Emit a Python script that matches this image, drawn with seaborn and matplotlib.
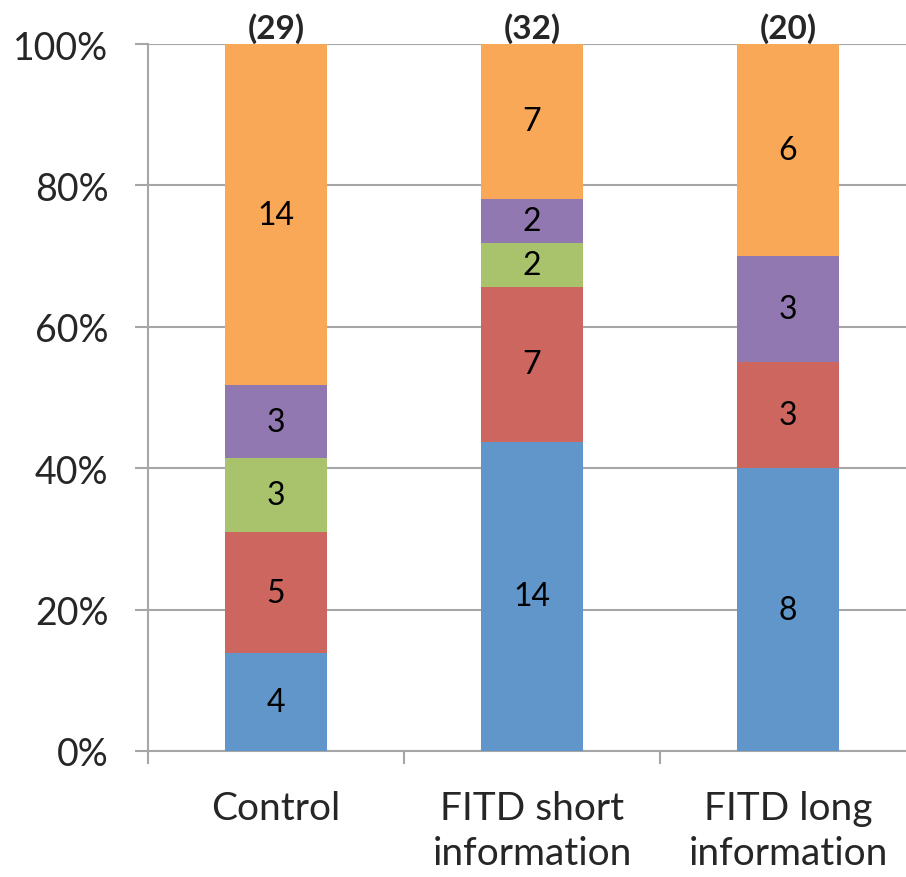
import matplotlib.pyplot as plt
import numpy as np
import pandas as pd
import seaborn as sns

sns.set_style("white")
plt.rcParams["font.family"] = ["Lato", "DejaVu Sans"]

# Data (counts per segment, bottom to top)
groups = ["Control", "FITD short\ninformation", "FITD long\ninformation"]
series = ["blue", "red", "green", "purple", "orange"]
blue = [4, 14, 8]
red = [5, 7, 3]
green = [3, 2, 0]
purple = [3, 2, 3]
orange = [14, 7, 6]
totals = [29, 32, 20]

colors = {
    "blue": "#6096C9",
    "red": "#CC665E",
    "green": "#A9C36C",
    "purple": "#9178B0",
    "orange": "#F9A857",
}

counts = pd.DataFrame(
    {"blue": blue, "red": red, "green": green, "purple": purple, "orange": orange},
    index=groups,
)
pct = counts.div(counts.sum(axis=1), axis=0) * 100
cum = pct.cumsum(axis=1)

fig = plt.figure(figsize=(9.06, 8.78), dpi=100)
ax = fig.add_axes([148 / 906, 1 - 752 / 878, 768 / 906, 707 / 878])

# draw cumulative bars from the top segment down so each covers the one below
for s in reversed(series):
    df = pd.DataFrame({"group": groups, "value": cum[s].values})
    sns.barplot(
        data=df,
        x="group",
        y="value",
        color=colors[s],
        width=0.4,
        saturation=1,
        linewidth=0,
        ax=ax,
        zorder=3,
    )

# segment labels
for i, g in enumerate(groups):
    for s in series:
        n = counts.loc[g, s]
        if n == 0:
            continue
        mid = cum.loc[g, s] - pct.loc[g, s] / 2
        ax.text(i, mid, str(n), ha="center", va="center", fontsize=23, color="black", zorder=4)
    ax.text(i, 100.2, f"({totals[i]})", ha="center", va="bottom",
            fontsize=24, fontweight="bold", zorder=4)

ax.set_xlim(-0.5, 2.5)
ax.set_ylim(0, 100)
ax.set_yticks(np.arange(0, 101, 20))
ax.set_yticklabels([f"{v}%" for v in range(0, 101, 20)])
ax.yaxis.grid(True, color="#A6A6A6", linewidth=1.5, zorder=0)
ax.set_axisbelow(True)

ax.set_xticks([-0.5, 0.5, 1.5])
ax.set_xticklabels([])
ax.set_xticks([0, 1, 2], minor=True)
ax.set_xticklabels(groups, minor=True, fontsize=28, linespacing=1.32)
ax.tick_params(axis="x", which="minor", bottom=False, length=0, pad=28)
ax.tick_params(axis="x", which="major", bottom=True, length=9.5, width=1.5,
               color="#A6A6A6", direction="out")
ax.tick_params(axis="y", left=True, length=9.5, width=1.5, color="#A6A6A6",
               direction="out", labelsize=27, pad=19)
ax.set_xlabel("")
ax.set_ylabel("")

for side in ["top", "right"]:
    ax.spines[side].set_visible(False)
for side in ["left", "bottom"]:
    ax.spines[side].set_color("#A6A6A6")
    ax.spines[side].set_linewidth(1.5)

fig.savefig("out.png", dpi=100)
